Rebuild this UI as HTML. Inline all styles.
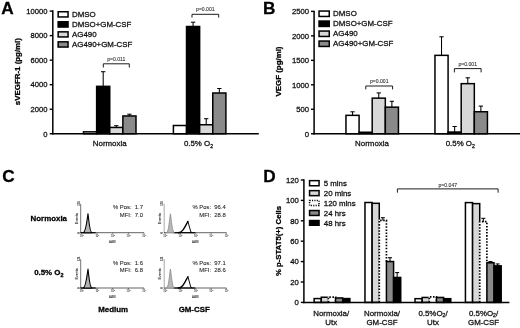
<!DOCTYPE html>
<html lang="en">
<head>
<meta charset="utf-8">
<title>Figure</title>
<style>
html,body{margin:0;padding:0;background:#fff;}
body{width:520px;height:328px;overflow:hidden;}
svg{display:block;font-family:'Liberation Sans', Arial, Helvetica, sans-serif;}
</style>
</head>
<body>
<svg width="520" height="328" viewBox="0 0 520 328">
<defs><filter id="soft" x="0" y="0" width="520" height="328" filterUnits="userSpaceOnUse"><feGaussianBlur stdDeviation="0.35"/></filter></defs>
<rect x="0" y="0" width="520" height="328" fill="#fff"/>
<g filter="url(#soft)">
<rect x="0" y="0" width="520" height="328" fill="#fff"/>
<text x="1.20" y="13.60" font-size="17.2" text-anchor="start" font-weight="bold" fill="#000"  stroke="#000" stroke-width="0.28">A</text>
<text transform="translate(19.80,71.60) rotate(-90)" font-size="7.9" text-anchor="middle" font-weight="bold" fill="#000" stroke="#000" stroke-width="0.28">sVEGFR-1 (pg/ml)</text>
<rect x="83.51" y="131.85" width="13.12" height="1.90" fill="#fff" stroke="#000" stroke-width="1.5"/>
<line x1="103.19" y1="86.60" x2="103.19" y2="71.70" stroke="#000" stroke-width="1.05" />
<line x1="101.04" y1="71.70" x2="105.34" y2="71.70" stroke="#000" stroke-width="1.05" />
<rect x="96.63" y="86.35" width="13.12" height="47.40" fill="#000" stroke="#000" stroke-width="1.5"/>
<line x1="116.31" y1="127.70" x2="116.31" y2="125.70" stroke="#000" stroke-width="1.05" />
<line x1="114.16" y1="125.70" x2="118.46" y2="125.70" stroke="#000" stroke-width="1.05" />
<rect x="109.75" y="127.45" width="13.12" height="6.30" fill="#d8d8d8" stroke="#000" stroke-width="1.5"/>
<line x1="129.43" y1="116.20" x2="129.43" y2="114.20" stroke="#000" stroke-width="1.05" />
<line x1="127.28" y1="114.20" x2="131.58" y2="114.20" stroke="#000" stroke-width="1.05" />
<rect x="122.87" y="115.95" width="13.12" height="17.80" fill="#8a8a8a" stroke="#000" stroke-width="1.5"/>
<rect x="173.41" y="125.50" width="13.12" height="8.25" fill="#fff" stroke="#000" stroke-width="1.5"/>
<line x1="193.09" y1="26.75" x2="193.09" y2="22.20" stroke="#000" stroke-width="1.05" />
<line x1="190.94" y1="22.20" x2="195.24" y2="22.20" stroke="#000" stroke-width="1.05" />
<rect x="186.53" y="26.50" width="13.12" height="107.25" fill="#000" stroke="#000" stroke-width="1.5"/>
<line x1="206.21" y1="125.00" x2="206.21" y2="118.70" stroke="#000" stroke-width="1.05" />
<line x1="204.06" y1="118.70" x2="208.36" y2="118.70" stroke="#000" stroke-width="1.05" />
<rect x="199.65" y="124.75" width="13.12" height="9.00" fill="#d8d8d8" stroke="#000" stroke-width="1.5"/>
<line x1="219.33" y1="93.25" x2="219.33" y2="88.50" stroke="#000" stroke-width="1.05" />
<line x1="217.18" y1="88.50" x2="221.48" y2="88.50" stroke="#000" stroke-width="1.05" />
<rect x="212.77" y="93.00" width="13.12" height="40.75" fill="#8a8a8a" stroke="#000" stroke-width="1.5"/>
<line x1="52.80" y1="10.35" x2="52.80" y2="134.50" stroke="#000" stroke-width="1.5" />
<line x1="52.05" y1="133.75" x2="258.80" y2="133.75" stroke="#000" stroke-width="1.5" />
<line x1="49.70" y1="133.75" x2="52.80" y2="133.75" stroke="#000" stroke-width="1.4" />
<text x="47.40" y="136.50" font-size="7.6" text-anchor="end" font-weight="normal" fill="#111"  stroke="#111" stroke-width="0.28">0</text>
<line x1="49.70" y1="109.22" x2="52.80" y2="109.22" stroke="#000" stroke-width="1.4" />
<text x="47.40" y="111.97" font-size="7.6" text-anchor="end" font-weight="normal" fill="#111"  stroke="#111" stroke-width="0.28">2000</text>
<line x1="49.70" y1="84.69" x2="52.80" y2="84.69" stroke="#000" stroke-width="1.4" />
<text x="47.40" y="87.44" font-size="7.6" text-anchor="end" font-weight="normal" fill="#111"  stroke="#111" stroke-width="0.28">4000</text>
<line x1="49.70" y1="60.16" x2="52.80" y2="60.16" stroke="#000" stroke-width="1.4" />
<text x="47.40" y="62.91" font-size="7.6" text-anchor="end" font-weight="normal" fill="#111"  stroke="#111" stroke-width="0.28">6000</text>
<line x1="49.70" y1="35.63" x2="52.80" y2="35.63" stroke="#000" stroke-width="1.4" />
<text x="47.40" y="38.38" font-size="7.6" text-anchor="end" font-weight="normal" fill="#111"  stroke="#111" stroke-width="0.28">8000</text>
<line x1="49.70" y1="11.10" x2="52.80" y2="11.10" stroke="#000" stroke-width="1.4" />
<text x="47.40" y="13.85" font-size="7.6" text-anchor="end" font-weight="normal" fill="#111"  stroke="#111" stroke-width="0.28">10000</text>
<text x="109.70" y="146.00" font-size="7.9" text-anchor="middle" font-weight="normal" fill="#111"  stroke="#111" stroke-width="0.28">Normoxia</text>
<text x="198.50" y="146.00" font-size="7.9" text-anchor="middle" font-weight="normal" fill="#111"  stroke="#111" stroke-width="0.28">0.5% O<tspan font-size="5.2" dy="1.6">2</tspan></text>
<path d="M103.30,67.50 V63.80 H129.30 V67.50" fill="none" stroke="#111" stroke-width="0.95"/>
<text x="116.30" y="60.80" font-size="5.1" text-anchor="middle" font-weight="normal" fill="#333"  stroke="#333" stroke-width="0.1">p=0.011</text>
<path d="M192.00,17.60 V14.30 H218.70 V17.60" fill="none" stroke="#111" stroke-width="0.95"/>
<text x="205.35" y="11.40" font-size="5.1" text-anchor="middle" font-weight="normal" fill="#333"  stroke="#333" stroke-width="0.1">p=0.001</text>
<rect x="58.15" y="11.75" width="9.90" height="5.20" fill="#fff" stroke="#000" stroke-width="1.5"/>
<text x="72.00" y="17.20" font-size="7.9" text-anchor="start" font-weight="normal" fill="#111"  stroke="#111" stroke-width="0.28">DMSO</text>
<rect x="58.15" y="21.75" width="9.90" height="5.30" fill="#000" stroke="#000" stroke-width="1.5"/>
<text x="72.00" y="27.30" font-size="7.9" text-anchor="start" font-weight="normal" fill="#111"  stroke="#111" stroke-width="0.28">DMSO+GM-CSF</text>
<rect x="58.15" y="31.85" width="9.90" height="5.10" fill="#d8d8d8" stroke="#000" stroke-width="1.5"/>
<text x="72.00" y="37.20" font-size="7.9" text-anchor="start" font-weight="normal" fill="#111"  stroke="#111" stroke-width="0.28">AG490</text>
<rect x="58.15" y="41.85" width="9.90" height="5.20" fill="#8a8a8a" stroke="#000" stroke-width="1.5"/>
<text x="72.00" y="47.30" font-size="7.9" text-anchor="start" font-weight="normal" fill="#111"  stroke="#111" stroke-width="0.28">AG490+GM-CSF</text>
<text x="263.00" y="13.80" font-size="17.2" text-anchor="start" font-weight="bold" fill="#000"  stroke="#000" stroke-width="0.28">B</text>
<text transform="translate(280.60,71.50) rotate(-90)" font-size="7.9" text-anchor="middle" font-weight="bold" fill="#000" stroke="#000" stroke-width="0.28">VEGF (pg/ml)</text>
<line x1="352.52" y1="115.60" x2="352.52" y2="111.80" stroke="#000" stroke-width="1.05" />
<line x1="350.37" y1="111.80" x2="354.67" y2="111.80" stroke="#000" stroke-width="1.05" />
<rect x="345.96" y="115.35" width="13.12" height="18.40" fill="#fff" stroke="#000" stroke-width="1.5"/>
<rect x="359.08" y="132.25" width="13.12" height="1.50" fill="#000" stroke="#000" stroke-width="1.5"/>
<line x1="378.76" y1="98.40" x2="378.76" y2="92.90" stroke="#000" stroke-width="1.05" />
<line x1="376.61" y1="92.90" x2="380.91" y2="92.90" stroke="#000" stroke-width="1.05" />
<rect x="372.20" y="98.15" width="13.12" height="35.60" fill="#d8d8d8" stroke="#000" stroke-width="1.5"/>
<line x1="391.88" y1="107.40" x2="391.88" y2="101.30" stroke="#000" stroke-width="1.05" />
<line x1="389.73" y1="101.30" x2="394.03" y2="101.30" stroke="#000" stroke-width="1.05" />
<rect x="385.32" y="107.15" width="13.12" height="26.60" fill="#8a8a8a" stroke="#000" stroke-width="1.5"/>
<line x1="441.52" y1="55.60" x2="441.52" y2="36.80" stroke="#000" stroke-width="1.05" />
<line x1="439.37" y1="36.80" x2="443.67" y2="36.80" stroke="#000" stroke-width="1.05" />
<rect x="434.96" y="55.35" width="13.12" height="78.40" fill="#fff" stroke="#000" stroke-width="1.5"/>
<line x1="454.64" y1="132.30" x2="454.64" y2="126.50" stroke="#000" stroke-width="1.05" />
<line x1="452.49" y1="126.50" x2="456.79" y2="126.50" stroke="#000" stroke-width="1.05" />
<rect x="448.08" y="132.05" width="13.12" height="1.70" fill="#000" stroke="#000" stroke-width="1.5"/>
<line x1="467.76" y1="83.90" x2="467.76" y2="77.80" stroke="#000" stroke-width="1.05" />
<line x1="465.61" y1="77.80" x2="469.91" y2="77.80" stroke="#000" stroke-width="1.05" />
<rect x="461.20" y="83.65" width="13.12" height="50.10" fill="#d8d8d8" stroke="#000" stroke-width="1.5"/>
<line x1="480.88" y1="112.00" x2="480.88" y2="106.10" stroke="#000" stroke-width="1.05" />
<line x1="478.73" y1="106.10" x2="483.03" y2="106.10" stroke="#000" stroke-width="1.05" />
<rect x="474.32" y="111.75" width="13.12" height="22.00" fill="#8a8a8a" stroke="#000" stroke-width="1.5"/>
<line x1="314.10" y1="10.65" x2="314.10" y2="134.50" stroke="#000" stroke-width="1.5" />
<line x1="313.35" y1="133.75" x2="520.00" y2="133.75" stroke="#000" stroke-width="1.5" />
<line x1="311.00" y1="133.75" x2="314.10" y2="133.75" stroke="#000" stroke-width="1.4" />
<text x="309.10" y="136.50" font-size="7.7" text-anchor="end" font-weight="normal" fill="#111"  stroke="#111" stroke-width="0.28">0</text>
<line x1="311.00" y1="109.28" x2="314.10" y2="109.28" stroke="#000" stroke-width="1.4" />
<text x="309.10" y="112.03" font-size="7.7" text-anchor="end" font-weight="normal" fill="#111"  stroke="#111" stroke-width="0.28">500</text>
<line x1="311.00" y1="84.81" x2="314.10" y2="84.81" stroke="#000" stroke-width="1.4" />
<text x="309.10" y="87.56" font-size="7.7" text-anchor="end" font-weight="normal" fill="#111"  stroke="#111" stroke-width="0.28">1000</text>
<line x1="311.00" y1="60.34" x2="314.10" y2="60.34" stroke="#000" stroke-width="1.4" />
<text x="309.10" y="63.09" font-size="7.7" text-anchor="end" font-weight="normal" fill="#111"  stroke="#111" stroke-width="0.28">1500</text>
<line x1="311.00" y1="35.87" x2="314.10" y2="35.87" stroke="#000" stroke-width="1.4" />
<text x="309.10" y="38.62" font-size="7.7" text-anchor="end" font-weight="normal" fill="#111"  stroke="#111" stroke-width="0.28">2000</text>
<line x1="311.00" y1="11.40" x2="314.10" y2="11.40" stroke="#000" stroke-width="1.4" />
<text x="309.10" y="14.15" font-size="7.7" text-anchor="end" font-weight="normal" fill="#111"  stroke="#111" stroke-width="0.28">2500</text>
<text x="372.00" y="146.00" font-size="7.9" text-anchor="middle" font-weight="normal" fill="#111"  stroke="#111" stroke-width="0.28">Normoxia</text>
<text x="460.30" y="146.00" font-size="7.9" text-anchor="middle" font-weight="normal" fill="#111"  stroke="#111" stroke-width="0.28">0.5% O<tspan font-size="5.2" dy="1.6">2</tspan></text>
<path d="M365.80,89.40 V86.00 H392.60 V89.40" fill="none" stroke="#111" stroke-width="0.95"/>
<text x="379.20" y="83.00" font-size="5.1" text-anchor="middle" font-weight="normal" fill="#333"  stroke="#333" stroke-width="0.1">p=0.001</text>
<path d="M454.40,72.40 V68.60 H481.10 V72.40" fill="none" stroke="#111" stroke-width="0.95"/>
<text x="467.75" y="66.00" font-size="5.1" text-anchor="middle" font-weight="normal" fill="#333"  stroke="#333" stroke-width="0.1">p=0.001</text>
<rect x="319.05" y="11.05" width="10.20" height="5.40" fill="#fff" stroke="#000" stroke-width="1.5"/>
<text x="333.10" y="16.40" font-size="7.9" text-anchor="start" font-weight="normal" fill="#111"  stroke="#111" stroke-width="0.28">DMSO</text>
<rect x="319.05" y="21.05" width="10.20" height="5.40" fill="#000" stroke="#000" stroke-width="1.5"/>
<text x="333.10" y="26.40" font-size="7.9" text-anchor="start" font-weight="normal" fill="#111"  stroke="#111" stroke-width="0.28">DMSO+GM-CSF</text>
<rect x="319.05" y="31.05" width="10.20" height="5.40" fill="#d8d8d8" stroke="#000" stroke-width="1.5"/>
<text x="333.10" y="36.40" font-size="7.9" text-anchor="start" font-weight="normal" fill="#111"  stroke="#111" stroke-width="0.28">AG490</text>
<rect x="319.05" y="41.05" width="10.20" height="5.40" fill="#8a8a8a" stroke="#000" stroke-width="1.5"/>
<text x="333.10" y="46.40" font-size="7.9" text-anchor="start" font-weight="normal" fill="#111"  stroke="#111" stroke-width="0.28">AG490+GM-CSF</text>
<text x="2.30" y="181.90" font-size="17.2" text-anchor="start" font-weight="bold" fill="#000"  stroke="#000" stroke-width="0.28">C</text>
<text x="48.80" y="221.20" font-size="7.9" text-anchor="middle" font-weight="bold" fill="#000"  stroke="#000" stroke-width="0.28">Normoxia</text>
<text x="48.80" y="275.40" font-size="7.9" text-anchor="middle" font-weight="bold" fill="#000"  stroke="#000" stroke-width="0.28">0.5% O<tspan font-size="5.4" dy="1.7">2</tspan></text>
<line x1="80.70" y1="203.90" x2="80.70" y2="232.70" stroke="#444" stroke-width="0.75" />
<line x1="80.40" y1="232.70" x2="144.00" y2="232.70" stroke="#3a3a3a" stroke-width="0.8" />
<line x1="80.40" y1="232.70" x2="95.70" y2="232.70" stroke="#000" stroke-width="1.2" />
<line x1="81.50" y1="232.70" x2="81.50" y2="233.90" stroke="#1a1a1a" stroke-width="0.55" />
<text x="81.70" y="236.70" font-size="2.6" text-anchor="middle" font-weight="normal" fill="#555"  stroke="#555" stroke-width="0.1">10<tspan font-size="1.8" dy="-0.9">0</tspan></text>
<line x1="97.12" y1="232.70" x2="97.12" y2="233.90" stroke="#1a1a1a" stroke-width="0.55" />
<text x="97.33" y="236.70" font-size="2.6" text-anchor="middle" font-weight="normal" fill="#555"  stroke="#555" stroke-width="0.1">10<tspan font-size="1.8" dy="-0.9">1</tspan></text>
<line x1="112.75" y1="232.70" x2="112.75" y2="233.90" stroke="#1a1a1a" stroke-width="0.55" />
<text x="112.95" y="236.70" font-size="2.6" text-anchor="middle" font-weight="normal" fill="#555"  stroke="#555" stroke-width="0.1">10<tspan font-size="1.8" dy="-0.9">2</tspan></text>
<line x1="128.38" y1="232.70" x2="128.38" y2="233.90" stroke="#1a1a1a" stroke-width="0.55" />
<text x="128.57" y="236.70" font-size="2.6" text-anchor="middle" font-weight="normal" fill="#555"  stroke="#555" stroke-width="0.1">10<tspan font-size="1.8" dy="-0.9">3</tspan></text>
<line x1="144.00" y1="232.70" x2="144.00" y2="233.90" stroke="#1a1a1a" stroke-width="0.55" />
<text x="144.20" y="236.70" font-size="2.6" text-anchor="middle" font-weight="normal" fill="#555"  stroke="#555" stroke-width="0.1">10<tspan font-size="1.8" dy="-0.9">4</tspan></text>
<text x="112.35" y="242.80" font-size="2.8" text-anchor="middle" font-weight="normal" fill="#333"  stroke="#333" stroke-width="0.1">A488</text>
<text transform="translate(77.50,218.75) rotate(-90)" font-size="3.6" text-anchor="middle" font-weight="normal" fill="#222" stroke="#222" stroke-width="0.1">Events</text>
<text transform="translate(79.80,203.60) rotate(-90)" font-size="2.6" text-anchor="middle" font-weight="normal" fill="#333" stroke="#333" stroke-width="0.1">128</text>
<text transform="translate(79.80,232.70) rotate(-90)" font-size="2.6" text-anchor="middle" font-weight="normal" fill="#333" stroke="#333" stroke-width="0.1">0</text>
<path d="M83.20,232.70 C85.70,232.40 86.70,222.70 88.00,213.70 C89.10,222.70 89.70,232.40 91.90,232.70 Z" fill="#b4b4b4" stroke="#000" stroke-width="1.1" stroke-linejoin="round"/>
<text x="143.00" y="209.30" font-size="5.9" text-anchor="end" font-weight="normal" fill="#161616" xml:space="preserve" stroke="#161616" stroke-width="0.06">% Pos:  1.7</text>
<text x="143.00" y="217.00" font-size="5.9" text-anchor="end" font-weight="normal" fill="#161616" xml:space="preserve" stroke="#161616" stroke-width="0.06">MFI:  7.0</text>
<line x1="164.20" y1="203.90" x2="164.20" y2="232.70" stroke="#8c8c8c" stroke-width="0.75" />
<line x1="163.90" y1="232.70" x2="226.40" y2="232.70" stroke="#3a3a3a" stroke-width="0.8" />
<line x1="173.70" y1="232.70" x2="195.20" y2="232.70" stroke="#000" stroke-width="1.2" />
<line x1="165.00" y1="232.70" x2="165.00" y2="233.90" stroke="#1a1a1a" stroke-width="0.55" />
<text x="165.20" y="236.70" font-size="2.6" text-anchor="middle" font-weight="normal" fill="#555"  stroke="#555" stroke-width="0.1">10<tspan font-size="1.8" dy="-0.9">0</tspan></text>
<line x1="180.35" y1="232.70" x2="180.35" y2="233.90" stroke="#1a1a1a" stroke-width="0.55" />
<text x="180.55" y="236.70" font-size="2.6" text-anchor="middle" font-weight="normal" fill="#555"  stroke="#555" stroke-width="0.1">10<tspan font-size="1.8" dy="-0.9">1</tspan></text>
<line x1="195.70" y1="232.70" x2="195.70" y2="233.90" stroke="#1a1a1a" stroke-width="0.55" />
<text x="195.90" y="236.70" font-size="2.6" text-anchor="middle" font-weight="normal" fill="#555"  stroke="#555" stroke-width="0.1">10<tspan font-size="1.8" dy="-0.9">2</tspan></text>
<line x1="211.05" y1="232.70" x2="211.05" y2="233.90" stroke="#1a1a1a" stroke-width="0.55" />
<text x="211.25" y="236.70" font-size="2.6" text-anchor="middle" font-weight="normal" fill="#555"  stroke="#555" stroke-width="0.1">10<tspan font-size="1.8" dy="-0.9">3</tspan></text>
<line x1="226.40" y1="232.70" x2="226.40" y2="233.90" stroke="#1a1a1a" stroke-width="0.55" />
<text x="226.60" y="236.70" font-size="2.6" text-anchor="middle" font-weight="normal" fill="#555"  stroke="#555" stroke-width="0.1">10<tspan font-size="1.8" dy="-0.9">4</tspan></text>
<text x="195.30" y="242.80" font-size="2.8" text-anchor="middle" font-weight="normal" fill="#333"  stroke="#333" stroke-width="0.1">A488</text>
<text transform="translate(161.00,218.75) rotate(-90)" font-size="3.6" text-anchor="middle" font-weight="normal" fill="#222" stroke="#222" stroke-width="0.1">Events</text>
<text transform="translate(163.30,203.60) rotate(-90)" font-size="2.6" text-anchor="middle" font-weight="normal" fill="#333" stroke="#333" stroke-width="0.1">128</text>
<text transform="translate(163.30,232.70) rotate(-90)" font-size="2.6" text-anchor="middle" font-weight="normal" fill="#333" stroke="#333" stroke-width="0.1">0</text>
<path d="M166.50,232.70 C168.50,232.70 169.30,220.70 170.40,213.70 C171.50,220.70 172.30,232.70 174.50,232.70 Z" fill="#b8b8b8" stroke="#8a8a8a" stroke-width="0.8" stroke-linejoin="round"/>
<path d="M178.40,232.70 C182.40,232.70 184.40,227.90 187.90,221.40" fill="none" stroke="#000" stroke-width="1.35" stroke-linecap="round"/>
<path d="M187.90,221.40 L190.80,231.90 L192.40,232.70" fill="none" stroke="#000" stroke-width="0.95" stroke-linejoin="round"/>
<text x="225.80" y="209.30" font-size="5.9" text-anchor="end" font-weight="normal" fill="#161616" xml:space="preserve" stroke="#161616" stroke-width="0.06">% Pos:  96.4</text>
<text x="225.80" y="217.00" font-size="5.9" text-anchor="end" font-weight="normal" fill="#161616" xml:space="preserve" stroke="#161616" stroke-width="0.06">MFI:  28.8</text>
<line x1="80.70" y1="259.20" x2="80.70" y2="288.00" stroke="#444" stroke-width="0.75" />
<line x1="80.40" y1="288.00" x2="144.00" y2="288.00" stroke="#3a3a3a" stroke-width="0.8" />
<line x1="80.40" y1="288.00" x2="95.70" y2="288.00" stroke="#000" stroke-width="1.2" />
<line x1="81.50" y1="288.00" x2="81.50" y2="289.20" stroke="#1a1a1a" stroke-width="0.55" />
<text x="81.70" y="292.00" font-size="2.6" text-anchor="middle" font-weight="normal" fill="#555"  stroke="#555" stroke-width="0.1">10<tspan font-size="1.8" dy="-0.9">0</tspan></text>
<line x1="97.12" y1="288.00" x2="97.12" y2="289.20" stroke="#1a1a1a" stroke-width="0.55" />
<text x="97.33" y="292.00" font-size="2.6" text-anchor="middle" font-weight="normal" fill="#555"  stroke="#555" stroke-width="0.1">10<tspan font-size="1.8" dy="-0.9">1</tspan></text>
<line x1="112.75" y1="288.00" x2="112.75" y2="289.20" stroke="#1a1a1a" stroke-width="0.55" />
<text x="112.95" y="292.00" font-size="2.6" text-anchor="middle" font-weight="normal" fill="#555"  stroke="#555" stroke-width="0.1">10<tspan font-size="1.8" dy="-0.9">2</tspan></text>
<line x1="128.38" y1="288.00" x2="128.38" y2="289.20" stroke="#1a1a1a" stroke-width="0.55" />
<text x="128.57" y="292.00" font-size="2.6" text-anchor="middle" font-weight="normal" fill="#555"  stroke="#555" stroke-width="0.1">10<tspan font-size="1.8" dy="-0.9">3</tspan></text>
<line x1="144.00" y1="288.00" x2="144.00" y2="289.20" stroke="#1a1a1a" stroke-width="0.55" />
<text x="144.20" y="292.00" font-size="2.6" text-anchor="middle" font-weight="normal" fill="#555"  stroke="#555" stroke-width="0.1">10<tspan font-size="1.8" dy="-0.9">4</tspan></text>
<text x="112.35" y="298.10" font-size="2.8" text-anchor="middle" font-weight="normal" fill="#333"  stroke="#333" stroke-width="0.1">A488</text>
<text transform="translate(77.50,274.05) rotate(-90)" font-size="3.6" text-anchor="middle" font-weight="normal" fill="#222" stroke="#222" stroke-width="0.1">Events</text>
<text transform="translate(79.80,258.90) rotate(-90)" font-size="2.6" text-anchor="middle" font-weight="normal" fill="#333" stroke="#333" stroke-width="0.1">128</text>
<text transform="translate(79.80,288.00) rotate(-90)" font-size="2.6" text-anchor="middle" font-weight="normal" fill="#333" stroke="#333" stroke-width="0.1">0</text>
<path d="M83.20,288.00 C85.70,287.70 86.70,278.00 88.00,269.00 C89.10,278.00 89.70,287.70 91.90,288.00 Z" fill="#b4b4b4" stroke="#000" stroke-width="1.1" stroke-linejoin="round"/>
<text x="143.00" y="264.60" font-size="5.9" text-anchor="end" font-weight="normal" fill="#161616" xml:space="preserve" stroke="#161616" stroke-width="0.06">% Pos:  1.6</text>
<text x="143.00" y="272.30" font-size="5.9" text-anchor="end" font-weight="normal" fill="#161616" xml:space="preserve" stroke="#161616" stroke-width="0.06">MFI:  6.8</text>
<line x1="164.20" y1="259.20" x2="164.20" y2="288.00" stroke="#8c8c8c" stroke-width="0.75" />
<line x1="163.90" y1="288.00" x2="226.40" y2="288.00" stroke="#3a3a3a" stroke-width="0.8" />
<line x1="173.70" y1="288.00" x2="195.20" y2="288.00" stroke="#000" stroke-width="1.2" />
<line x1="165.00" y1="288.00" x2="165.00" y2="289.20" stroke="#1a1a1a" stroke-width="0.55" />
<text x="165.20" y="292.00" font-size="2.6" text-anchor="middle" font-weight="normal" fill="#555"  stroke="#555" stroke-width="0.1">10<tspan font-size="1.8" dy="-0.9">0</tspan></text>
<line x1="180.35" y1="288.00" x2="180.35" y2="289.20" stroke="#1a1a1a" stroke-width="0.55" />
<text x="180.55" y="292.00" font-size="2.6" text-anchor="middle" font-weight="normal" fill="#555"  stroke="#555" stroke-width="0.1">10<tspan font-size="1.8" dy="-0.9">1</tspan></text>
<line x1="195.70" y1="288.00" x2="195.70" y2="289.20" stroke="#1a1a1a" stroke-width="0.55" />
<text x="195.90" y="292.00" font-size="2.6" text-anchor="middle" font-weight="normal" fill="#555"  stroke="#555" stroke-width="0.1">10<tspan font-size="1.8" dy="-0.9">2</tspan></text>
<line x1="211.05" y1="288.00" x2="211.05" y2="289.20" stroke="#1a1a1a" stroke-width="0.55" />
<text x="211.25" y="292.00" font-size="2.6" text-anchor="middle" font-weight="normal" fill="#555"  stroke="#555" stroke-width="0.1">10<tspan font-size="1.8" dy="-0.9">3</tspan></text>
<line x1="226.40" y1="288.00" x2="226.40" y2="289.20" stroke="#1a1a1a" stroke-width="0.55" />
<text x="226.60" y="292.00" font-size="2.6" text-anchor="middle" font-weight="normal" fill="#555"  stroke="#555" stroke-width="0.1">10<tspan font-size="1.8" dy="-0.9">4</tspan></text>
<text x="195.30" y="298.10" font-size="2.8" text-anchor="middle" font-weight="normal" fill="#333"  stroke="#333" stroke-width="0.1">A488</text>
<text transform="translate(161.00,274.05) rotate(-90)" font-size="3.6" text-anchor="middle" font-weight="normal" fill="#222" stroke="#222" stroke-width="0.1">Events</text>
<text transform="translate(163.30,258.90) rotate(-90)" font-size="2.6" text-anchor="middle" font-weight="normal" fill="#333" stroke="#333" stroke-width="0.1">128</text>
<text transform="translate(163.30,288.00) rotate(-90)" font-size="2.6" text-anchor="middle" font-weight="normal" fill="#333" stroke="#333" stroke-width="0.1">0</text>
<path d="M166.50,288.00 C168.50,288.00 169.30,276.00 170.40,269.00 C171.50,276.00 172.30,288.00 174.50,288.00 Z" fill="#b8b8b8" stroke="#8a8a8a" stroke-width="0.8" stroke-linejoin="round"/>
<path d="M178.40,288.00 C182.40,288.00 184.40,283.20 187.90,276.70" fill="none" stroke="#000" stroke-width="1.35" stroke-linecap="round"/>
<path d="M187.90,276.70 L190.80,287.20 L192.40,288.00" fill="none" stroke="#000" stroke-width="0.95" stroke-linejoin="round"/>
<text x="225.80" y="264.60" font-size="5.9" text-anchor="end" font-weight="normal" fill="#161616" xml:space="preserve" stroke="#161616" stroke-width="0.06">% Pos:  97.1</text>
<text x="225.80" y="272.30" font-size="5.9" text-anchor="end" font-weight="normal" fill="#161616" xml:space="preserve" stroke="#161616" stroke-width="0.06">MFI:  28.6</text>
<text x="113.10" y="312.40" font-size="7.9" text-anchor="middle" font-weight="bold" fill="#000"  stroke="#000" stroke-width="0.28">Medium</text>
<text x="194.20" y="312.40" font-size="7.9" text-anchor="middle" font-weight="bold" fill="#000"  stroke="#000" stroke-width="0.28">GM-CSF</text>
<text x="263.20" y="181.50" font-size="17.2" text-anchor="start" font-weight="bold" fill="#000"  stroke="#000" stroke-width="0.28">D</text>
<text transform="translate(280.50,241.00) rotate(-90)" font-size="7.75" text-anchor="middle" font-weight="bold" fill="#000" stroke="#000" stroke-width="0.28">% p-STAT5(+) Cells</text>
<rect x="314.12" y="298.58" width="7.15" height="3.82" fill="#fff" stroke="#000" stroke-width="1.5"/>
<rect x="321.27" y="297.25" width="7.15" height="5.15" fill="#d8d8d8" stroke="#000" stroke-width="1.5"/>
<rect x="327.68" y="296.40" width="8.65" height="6.00" fill="#fff"/>
<path d="M328.43,302.40 V297.15 H335.57 V302.40" fill="none" stroke="#000" stroke-width="1.7" stroke-dasharray="1.55 1.52"/>
<rect x="335.57" y="297.97" width="7.15" height="4.43" fill="#8a8a8a" stroke="#000" stroke-width="1.5"/>
<rect x="342.73" y="298.58" width="7.15" height="3.82" fill="#000" stroke="#000" stroke-width="1.5"/>
<rect x="364.98" y="202.50" width="7.15" height="99.90" fill="#fff" stroke="#000" stroke-width="1.5"/>
<rect x="372.12" y="203.31" width="7.15" height="99.09" fill="#d8d8d8" stroke="#000" stroke-width="1.5"/>
<rect x="378.53" y="219.60" width="8.65" height="82.80" fill="#fff"/>
<path d="M379.28,302.40 V220.35 H386.43 V261.55" fill="none" stroke="#000" stroke-width="1.7" stroke-dasharray="1.55 1.52"/>
<line x1="382.85" y1="220.60" x2="382.85" y2="217.73" stroke="#000" stroke-width="1.05" />
<line x1="380.85" y1="217.73" x2="384.85" y2="217.73" stroke="#000" stroke-width="1.05" />
<rect x="386.43" y="261.55" width="7.15" height="40.85" fill="#8a8a8a" stroke="#000" stroke-width="1.5"/>
<line x1="390.00" y1="261.80" x2="390.00" y2="257.72" stroke="#000" stroke-width="1.05" />
<line x1="388.00" y1="257.72" x2="392.00" y2="257.72" stroke="#000" stroke-width="1.05" />
<rect x="393.58" y="277.47" width="7.15" height="24.93" fill="#000" stroke="#000" stroke-width="1.5"/>
<line x1="397.15" y1="277.72" x2="397.15" y2="272.61" stroke="#000" stroke-width="1.05" />
<line x1="395.15" y1="272.61" x2="399.15" y2="272.61" stroke="#000" stroke-width="1.05" />
<rect x="415.02" y="298.68" width="7.15" height="3.72" fill="#fff" stroke="#000" stroke-width="1.5"/>
<rect x="422.17" y="297.46" width="7.15" height="4.94" fill="#d8d8d8" stroke="#000" stroke-width="1.5"/>
<rect x="428.57" y="296.10" width="8.65" height="6.30" fill="#fff"/>
<path d="M429.32,302.40 V296.85 H436.47 V302.40" fill="none" stroke="#000" stroke-width="1.7" stroke-dasharray="1.55 1.52"/>
<rect x="436.47" y="297.46" width="7.15" height="4.94" fill="#8a8a8a" stroke="#000" stroke-width="1.5"/>
<rect x="443.62" y="298.68" width="7.15" height="3.72" fill="#000" stroke="#000" stroke-width="1.5"/>
<rect x="465.43" y="202.60" width="7.15" height="99.80" fill="#fff" stroke="#000" stroke-width="1.5"/>
<rect x="472.57" y="203.62" width="7.15" height="98.78" fill="#d8d8d8" stroke="#000" stroke-width="1.5"/>
<rect x="478.98" y="220.92" width="8.65" height="81.48" fill="#fff"/>
<path d="M479.73,302.40 V221.67 H486.88 V262.78" fill="none" stroke="#000" stroke-width="1.7" stroke-dasharray="1.55 1.52"/>
<line x1="483.30" y1="221.92" x2="483.30" y2="218.34" stroke="#000" stroke-width="1.05" />
<line x1="481.30" y1="218.34" x2="485.30" y2="218.34" stroke="#000" stroke-width="1.05" />
<rect x="486.88" y="262.78" width="7.15" height="39.62" fill="#8a8a8a" stroke="#000" stroke-width="1.5"/>
<line x1="490.45" y1="263.03" x2="490.45" y2="261.59" stroke="#000" stroke-width="1.05" />
<line x1="488.45" y1="261.59" x2="492.45" y2="261.59" stroke="#000" stroke-width="1.05" />
<rect x="494.03" y="265.84" width="7.15" height="36.56" fill="#000" stroke="#000" stroke-width="1.5"/>
<line x1="497.60" y1="266.09" x2="497.60" y2="263.94" stroke="#000" stroke-width="1.05" />
<line x1="495.60" y1="263.94" x2="499.60" y2="263.94" stroke="#000" stroke-width="1.05" />
<line x1="303.90" y1="179.25" x2="303.90" y2="303.15" stroke="#000" stroke-width="1.5" />
<line x1="303.15" y1="302.40" x2="509.40" y2="302.40" stroke="#000" stroke-width="1.5" />
<line x1="300.80" y1="302.40" x2="303.90" y2="302.40" stroke="#000" stroke-width="1.4" />
<text x="298.90" y="305.15" font-size="7.7" text-anchor="end" font-weight="normal" fill="#111"  stroke="#111" stroke-width="0.28">0</text>
<line x1="300.80" y1="282.00" x2="303.90" y2="282.00" stroke="#000" stroke-width="1.4" />
<text x="298.90" y="284.75" font-size="7.7" text-anchor="end" font-weight="normal" fill="#111"  stroke="#111" stroke-width="0.28">20</text>
<line x1="300.80" y1="261.60" x2="303.90" y2="261.60" stroke="#000" stroke-width="1.4" />
<text x="298.90" y="264.35" font-size="7.7" text-anchor="end" font-weight="normal" fill="#111"  stroke="#111" stroke-width="0.28">40</text>
<line x1="300.80" y1="241.20" x2="303.90" y2="241.20" stroke="#000" stroke-width="1.4" />
<text x="298.90" y="243.95" font-size="7.7" text-anchor="end" font-weight="normal" fill="#111"  stroke="#111" stroke-width="0.28">60</text>
<line x1="300.80" y1="220.80" x2="303.90" y2="220.80" stroke="#000" stroke-width="1.4" />
<text x="298.90" y="223.55" font-size="7.7" text-anchor="end" font-weight="normal" fill="#111"  stroke="#111" stroke-width="0.28">80</text>
<line x1="300.80" y1="200.40" x2="303.90" y2="200.40" stroke="#000" stroke-width="1.4" />
<text x="298.90" y="203.15" font-size="7.7" text-anchor="end" font-weight="normal" fill="#111"  stroke="#111" stroke-width="0.28">100</text>
<line x1="300.80" y1="180.00" x2="303.90" y2="180.00" stroke="#000" stroke-width="1.4" />
<text x="298.90" y="182.75" font-size="7.7" text-anchor="end" font-weight="normal" fill="#111"  stroke="#111" stroke-width="0.28">120</text>
<text x="331.20" y="315.60" font-size="7.9" text-anchor="middle" font-weight="normal" fill="#111"  stroke="#111" stroke-width="0.28">Normoxia/</text>
<text x="331.20" y="324.80" font-size="7.9" text-anchor="middle" font-weight="normal" fill="#111"  stroke="#111" stroke-width="0.28">Utx</text>
<text x="382.00" y="315.60" font-size="7.9" text-anchor="middle" font-weight="normal" fill="#111"  stroke="#111" stroke-width="0.28">Normoxia/</text>
<text x="382.00" y="324.80" font-size="7.9" text-anchor="middle" font-weight="normal" fill="#111"  stroke="#111" stroke-width="0.28">GM-CSF</text>
<text x="433.00" y="315.60" font-size="7.9" text-anchor="middle" font-weight="normal" fill="#111"  stroke="#111" stroke-width="0.28">0.5%O<tspan font-size="5.2" dy="1.6">2</tspan><tspan dy="-1.6">/</tspan></text>
<text x="433.00" y="324.80" font-size="7.9" text-anchor="middle" font-weight="normal" fill="#111"  stroke="#111" stroke-width="0.28">Utx</text>
<text x="483.60" y="315.60" font-size="7.9" text-anchor="middle" font-weight="normal" fill="#111"  stroke="#111" stroke-width="0.28">0.5%O<tspan font-size="5.2" dy="1.6">2</tspan><tspan dy="-1.6">/</tspan></text>
<text x="483.60" y="324.80" font-size="7.9" text-anchor="middle" font-weight="normal" fill="#111"  stroke="#111" stroke-width="0.28">GM-CSF</text>
<path d="M397.40,192.70 V188.90 H498.10 V192.70" fill="none" stroke="#111" stroke-width="0.95"/>
<text x="447.80" y="186.60" font-size="5.1" text-anchor="middle" font-weight="normal" fill="#333"  stroke="#333" stroke-width="0.1">p=0.047</text>
<rect x="309.55" y="180.65" width="9.50" height="5.10" fill="#fff" stroke="#000" stroke-width="1.5"/>
<text x="323.80" y="186.00" font-size="7.85" text-anchor="start" font-weight="normal" fill="#111"  stroke="#111" stroke-width="0.28">5 mins</text>
<rect x="309.55" y="190.65" width="9.50" height="5.00" fill="#d8d8d8" stroke="#000" stroke-width="1.5"/>
<text x="323.80" y="195.90" font-size="7.85" text-anchor="start" font-weight="normal" fill="#111"  stroke="#111" stroke-width="0.28">20 mins</text>
<rect x="309.55" y="200.55" width="9.50" height="5.00" fill="#fff" stroke="#000" stroke-width="1.5" stroke-dasharray="1.15 1.25"/>
<text x="323.80" y="205.80" font-size="7.85" text-anchor="start" font-weight="normal" fill="#111"  stroke="#111" stroke-width="0.28">120 mins</text>
<rect x="309.55" y="210.55" width="9.50" height="4.90" fill="#8a8a8a" stroke="#000" stroke-width="1.5"/>
<text x="323.80" y="215.70" font-size="7.85" text-anchor="start" font-weight="normal" fill="#111"  stroke="#111" stroke-width="0.28">24 hrs</text>
<rect x="309.55" y="220.55" width="9.50" height="4.70" fill="#000" stroke="#000" stroke-width="1.5"/>
<text x="323.80" y="225.50" font-size="7.85" text-anchor="start" font-weight="normal" fill="#111"  stroke="#111" stroke-width="0.28">48 hrs</text>
</g>
</svg>
</body>
</html>
